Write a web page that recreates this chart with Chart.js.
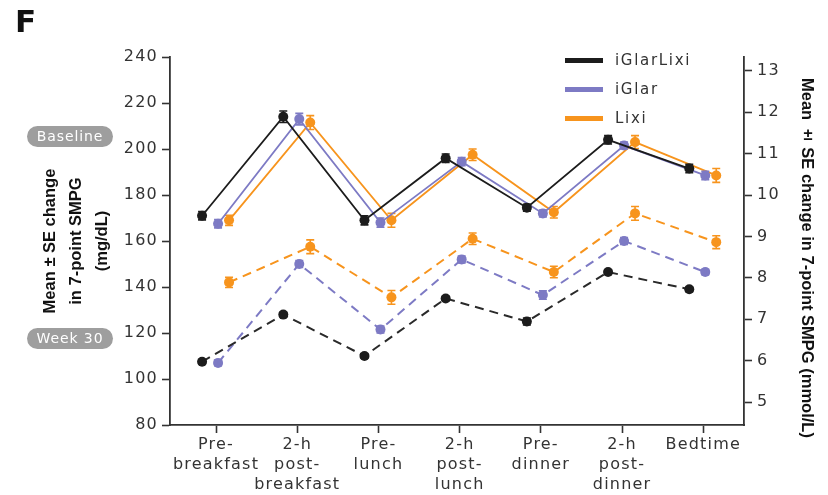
<!DOCTYPE html>
<html>
<head>
<meta charset="utf-8">
<script src="https://cdn.jsdelivr.net/npm/chart.js@4.4.1/dist/chart.umd.min.js"></script>
<style>
  html, body { margin: 0; padding: 0; background: #fff; }
  #wrap { position: relative; width: 828px; height: 495px; overflow: hidden; }
  #c { position: absolute; left: 0; top: 0; }
  .panel { position: absolute; left: 15px; top: 6px; font: bold 31px "DejaVu Sans"; line-height: 30px; color: #111; }
  .badge { position: absolute; left: 27px; width: 86px; height: 21px; border-radius: 11px; background: #9e9e9e;
           color: #fff; font: 14px "DejaVu Sans"; letter-spacing: 0.9px; text-align: center; line-height: 21px; }
  .ytitle-l { position: absolute; left: 75px; top: 241px; transform: translate(-50%, -50%) rotate(-90deg);
              white-space: nowrap; text-align: center; font: bold 16.5px "Liberation Sans"; line-height: 26px; color: #111; }
  .ytitle-r { position: absolute; left: 798px; top: 78px; writing-mode: vertical-rl; white-space: nowrap;
              font: bold 16.5px "Liberation Sans"; line-height: 20px; color: #111; }
  .leg { position: absolute; left: 565px; height: 20px; }
  .leg .sw { position: absolute; left: 0; top: 7px; width: 38px; height: 5px; }
  .leg .tx { position: absolute; left: 50px; top: 0; line-height: 20px; font: 15px "DejaVu Sans";
             letter-spacing: 1.7px; color: #333; white-space: nowrap; }
</style>
</head>
<body>
<div id="wrap">
  <canvas id="c" width="828" height="495"></canvas>
  <div class="panel">F</div>
  <div class="badge" style="top:126px">Baseline</div>
  <div class="badge" style="top:328px">Week 30</div>
  <div class="ytitle-l">Mean ± SE change<br>in 7-point SMPG<br>(mg/dL)</div>
  <div class="ytitle-r">Mean ± SE change in 7-point SMPG (mmol/L)</div>
  <div id="legend"></div>
</div>
<script>
// Time points of the 7-point self-measured plasma glucose profile
const categories = [
  ["Pre-", "breakfast"], ["2-h", "post-", "breakfast"], ["Pre-", "lunch"],
  ["2-h", "post-", "lunch"], ["Pre-", "dinner"], ["2-h", "post-", "dinner"], ["Bedtime"]
];
const seriesNames = ["iGlarLixi", "iGlar", "Lixi"];
const seriesColors = ["#1c1c1c", "#7d7ac4", "#f7941d"];
const dashedColors = ["#2a2a2a", "#7d7ac4", "#f7941d"];

// Mean SMPG (mg/dL) at baseline
const baselineIGlarLixi = [171, 214, 169, 196, 174.5, 204, 191.5];
const baselineIGlar     = [167.5, 213, 168, 194.5, 172, 201.5, 188.5];
const baselineLixi      = [169, 211.5, 169, 197.5, 172.5, 203, 188.5];
// Mean SMPG (mg/dL) at week 30
const week30IGlarLixi = [107.5, 128, 110, 135, 125, 146.5, 139];
const week30IGlar     = [107, 150, 121.5, 152, 136.5, 160, 146.5];
const week30Lixi      = [142, 157.5, 135.5, 161, 146.5, 172, 159.5];

// Standard errors (mg/dL)
const seBaselineIGlarLixi = [1.8, 2.5, 2, 1.8, 1.5, 1.8, 1.8];
const seBaselineIGlar     = [1.8, 2.5, 2, 1.8, 1.5, 1.5, 1.8];
const seBaselineLixi      = [2.2, 3, 3, 2.5, 2.5, 2.8, 3];
const seWeek30IGlarLixi   = [1, 1, 1, 1, 1.5, 1, 1];
const seWeek30IGlar       = [1.2, 1.5, 1.5, 1.5, 1.8, 1.5, 1.2];
const seWeek30Lixi        = [2.2, 3, 3, 2.5, 2.5, 3, 2.8];

// Axis ticks
const mgTicks = [80, 100, 120, 140, 160, 180, 200, 220, 240];
const mmolTicks = [5, 6, 7, 8, 9, 10, 11, 12, 13];
const MG_PER_MMOL = 18;

// Horizontal dodge of the three treatment arms around each time point
const dodge = [-0.172, 0.025, 0.16];

const baseline = [baselineIGlarLixi, baselineIGlar, baselineLixi];
const week30 = [week30IGlarLixi, week30IGlar, week30Lixi];
const seBaseline = [seBaselineIGlarLixi, seBaselineIGlar, seBaselineLixi];
const seWeek30 = [seWeek30IGlarLixi, seWeek30IGlar, seWeek30Lixi];

function toPoints(values, arm) {
  return values.map((v, i) => ({ x: i + dodge[arm], y: v }));
}

const datasets = [];
seriesNames.forEach((name, arm) => {
  datasets.push({
    label: name + " baseline",
    data: toPoints(baseline[arm], arm),
    se: seBaseline[arm],
    borderColor: seriesColors[arm],
    backgroundColor: seriesColors[arm],
    pointBackgroundColor: seriesColors[arm],
    borderWidth: 1.8,
    pointRadius: 5,
    pointBorderWidth: 0,
    tension: 0,
    yAxisID: "y"
  });
});
seriesNames.forEach((name, arm) => {
  datasets.push({
    label: name + " week 30",
    data: toPoints(week30[arm], arm),
    se: seWeek30[arm],
    borderColor: dashedColors[arm],
    backgroundColor: seriesColors[arm],
    pointBackgroundColor: seriesColors[arm],
    borderWidth: 2,
    borderDash: [9, 6],
    pointRadius: 5,
    pointBorderWidth: 0,
    tension: 0,
    yAxisID: "y"
  });
});

// Vertical SE whiskers with caps, drawn right after each series
const errorBars = {
  id: "errorBars",
  afterDatasetDraw(chart, args) {
    const ds = chart.data.datasets[args.index];
    const y = chart.scales.y;
    const ctx = chart.ctx;
    ctx.save();
    ctx.setLineDash([]);
    ctx.strokeStyle = ds.pointBackgroundColor;
    ctx.lineWidth = 1.6;
    args.meta.data.forEach((pt, i) => {
      const v = ds.data[i].y, e = ds.se[i];
      const top = y.getPixelForValue(v + e);
      const bot = y.getPixelForValue(v - e);
      ctx.beginPath();
      ctx.moveTo(pt.x, top); ctx.lineTo(pt.x, bot);
      ctx.moveTo(pt.x - 4, top); ctx.lineTo(pt.x + 4, top);
      ctx.moveTo(pt.x - 4, bot); ctx.lineTo(pt.x + 4, bot);
      ctx.stroke();
    });
    ctx.restore();
  }
};

// Slightly tracked text for the tick labels
const tracking = {
  id: "tracking",
  beforeDraw(chart) { chart.ctx.letterSpacing = "1.2px"; }
};

const axisColor = "#333";
const tickFont = { family: "DejaVu Sans", size: 16, lineHeight: 1.25 };
const tickGrid = { display: true, drawOnChartArea: false, drawTicks: true, tickLength: 8, tickWidth: 1.6, tickColor: axisColor };
const axisBorder = { display: true, color: axisColor, width: 1.8 };

new Chart(document.getElementById("c"), {
  type: "line",
  data: { datasets },
  plugins: [errorBars, tracking],
  options: {
    responsive: false,
    animation: false,
    devicePixelRatio: 1,
    layout: { padding: { left: 20, top: 57, right: 0, bottom: 0 } },
    plugins: { legend: { display: false }, tooltip: { enabled: false } },
    scales: {
      x: {
        type: "linear",
        position: "bottom",
        min: -0.567,
        max: 6.502,
        afterBuildTicks(scale) { scale.ticks = categories.map((_, i) => ({ value: i })); },
        afterFit(scale) { scale.height = 70; },
        ticks: {
          autoSkip: false, maxRotation: 0, padding: 2, color: axisColor, font: tickFont,
          callback: (value) => categories[value] || ""
        },
        grid: tickGrid,
        border: axisBorder
      },
      y: {
        position: "left",
        min: mgTicks[0],
        max: mgTicks[mgTicks.length - 1],
        afterBuildTicks(scale) { scale.ticks = mgTicks.map(v => ({ value: v })); },
        afterFit(scale) { scale.width = 150; },
        ticks: { padding: 4, color: axisColor, font: tickFont },
        grid: tickGrid,
        border: axisBorder
      },
      y2: {
        position: "right",
        min: mgTicks[0] / MG_PER_MMOL,
        max: mgTicks[mgTicks.length - 1] / MG_PER_MMOL,
        afterBuildTicks(scale) { scale.ticks = mmolTicks.map(v => ({ value: v })); },
        afterFit(scale) { scale.width = 84; },
        ticks: { padding: 5, color: axisColor, font: tickFont },
        grid: tickGrid,
        border: axisBorder
      }
    }
  }
});

// Legend for the three treatment arms
const legend = document.getElementById("legend");
const legendTops = [51, 80, 109];
seriesNames.forEach((name, arm) => {
  const row = document.createElement("div");
  row.className = "leg";
  row.style.top = legendTops[arm] + "px";
  row.innerHTML = '<div class="sw" style="background:' + seriesColors[arm] + '"></div><div class="tx">' + name + '</div>';
  legend.appendChild(row);
});
</script>
</body>
</html>
